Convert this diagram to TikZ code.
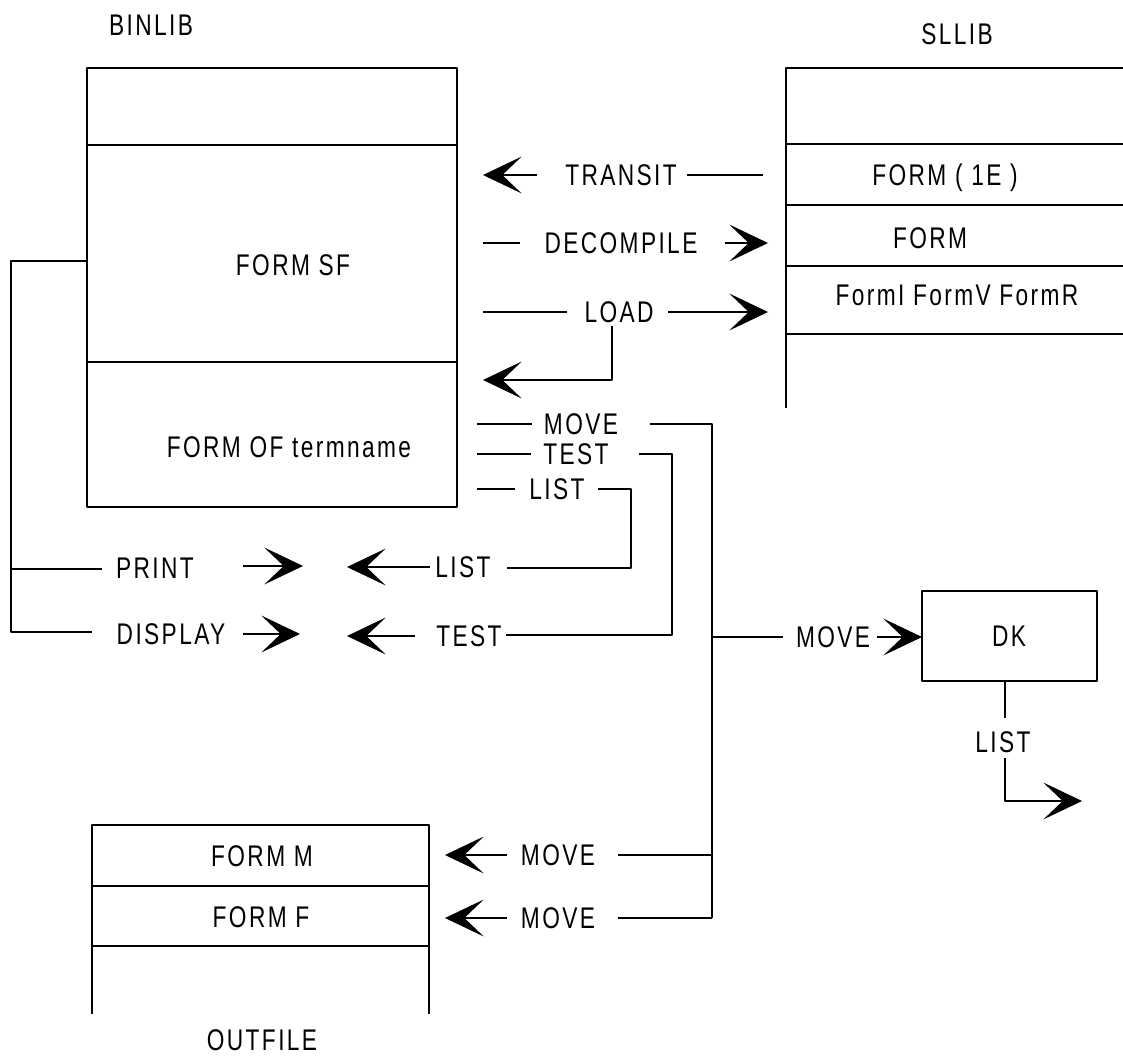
\documentclass[tikz,border=0pt]{standalone}
\usepackage{fontspec}
\setmainfont{Liberation Sans}[FakeStretch=0.76,LetterSpace=8]
\usepackage{tikz}
\usetikzlibrary{arrows.meta}

\tikzset{lbl/.style={inner sep=0pt, font=\fontsize{17}{20}\selectfont},
         arr/.style={-{Stealth[length=22pt,width=21pt,inset=11pt]}}}

\begin{document}
\begin{tikzpicture}[x=0.02cm, y=-0.02cm, line width=0.6pt, line join = round]

    \useasboundingbox (0,0) rectangle (1123,1059);

    % binlib
    \coordinate (b0) at (87,68);
    \coordinate (b1) at (457,507);
    \draw (b0) rectangle (b1);
    \draw (87,145) -- (457,145);
    \draw (87,362) -- (457,362);
    \node[lbl] (binlib) at (151,25) {BINLIB};
    \node[lbl] (formsf) at (293,265) {FORM SF};
    \node[lbl] (formof) at (289,447) {FORM OF termname};

    % sllib
    \coordinate (s0) at (786,68);
    \coordinate (s1) at (786,408);
    \draw (1123,68) -- (s0) -- (s1);
    \draw (786,144) -- (1123,144);
    \draw (786,205) -- (1123,205);
    \draw (786,266) -- (1123,266);
    \draw (786,334) -- (1123,334);
    \node[lbl] (sllib) at (957,34) {SLLIB};
    \node[lbl] (form1e) at (945,178) {FORM ( 1E )};
    \node[lbl] (form) at (930,238) {FORM};
    \node[lbl] (formivr) at (957,295) {FormI FormV FormR};

    % dk
    \coordinate (d0) at (922,591);
    \coordinate (d1) at (1097,681);
    \draw (d0) rectangle (d1);
    \node[lbl] (dk) at (1009,636) {DK};

    % outfile
    \coordinate (o0) at (92,1014);
    \coordinate (o1) at (429,1014);
    \draw (o0) -- (92,825) -- (429,825) -- (o1);
    \draw (92,886) -- (429,886);
    \draw (92,946) -- (429,946);
    \node[lbl] (formm) at (262,856) {FORM M};
    \node[lbl] (formf) at (261,917) {FORM F};
    \node[lbl] (outfile) at (262,1040) {OUTFILE};

    % labels on the lines
    \node[lbl] (transit) at (621,175) {TRANSIT};
    \node[lbl] (decomp) at (621,243) {DECOMPILE};
    \node[lbl] (load) at (619,312) {LOAD};
    \node[lbl] (move) at (581,424) {MOVE};
    \node[lbl] (test) at (576,454) {TEST};
    \node[lbl] (list) at (557,489) {LIST};
    \node[lbl] (print) at (155,568) {PRINT};
    \node[lbl] (display) at (171,634) {DISPLAY};
    \node[lbl] (listb) at (463,567) {LIST};
    \node[lbl] (testb) at (469,636) {TEST};
    \node[lbl] (movedk) at (833,637) {MOVE};
    \node[lbl] (listdk) at (1003,742) {LIST};
    \node[lbl] (movem) at (558,855) {MOVE};
    \node[lbl] (movef) at (558,918) {MOVE};

    % binlib <-> sllib
    \draw[arr] (537,175) -- (483,175);
    \draw (687,175) -- (763,175);
    \draw (483,243) -- (520,243);
    \draw[arr] (725,243) -- (768,243);
    \draw (483,312) -- (567,312);
    \draw[arr] (668,312) -- (768,312);
    \draw[arr] (612,326) -- (612,380) -- (483,380);

    % move, test, list
    \draw (477,424) -- (532,424);
    \draw (650,424) -- (712,424) -- (712,918);
    \draw (477,454) -- (531,454);
    \draw (639,454) -- (672,454) -- (672,635) -- (506,635);
    \draw (477,489) -- (515,489);
    \draw (598,489) -- (631,489) -- (631,568) -- (507,568);
    \draw[arr] (430,567) -- (347,567);
    \draw[arr] (415,636) -- (347,636);

    % print, display
    \draw (b0 |- 0,261) -- (11,261) -- (11,632) -- (92,632);
    \draw (11,569) -- (102,569);
    \draw[arr] (243,566) -- (303,566);
    \draw[arr] (243,634) -- (300,634);

    % to dk
    \draw (712,637) -- (783,637);
    \draw[arr] (877,637) -- (d0 |- 0,637);
    \draw (1005,681) -- (1005,718);
    \draw[arr] (1005,758) -- (1005,801) -- (1082,801);

    % to outfile
    \draw (712,855) -- (618,855);
    \draw[arr] (507,855) -- (445,855);
    \draw (712,918) -- (618,918);
    \draw[arr] (507,918) -- (445,918);

\end{tikzpicture}
\end{document}
